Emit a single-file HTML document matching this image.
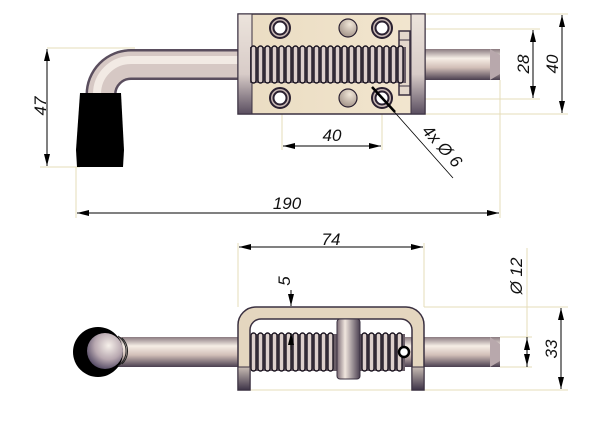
<!DOCTYPE html>
<html><head><meta charset="utf-8"><style>
html,body{margin:0;padding:0;background:#fff;}
svg{display:block;}
text{font-family:"Liberation Sans",sans-serif;font-style:italic;font-size:17px;fill:#111;}
</style></head><body>
<svg width="601" height="430" viewBox="0 0 601 430" xmlns="http://www.w3.org/2000/svg">
<defs>
<linearGradient id="rodH" x1="0" y1="0" x2="0" y2="1">
<stop offset="0" stop-color="#8a7a80"/><stop offset="0.3" stop-color="#f6eee6"/><stop offset="0.6" stop-color="#d2bfb8"/><stop offset="1" stop-color="#4a3f50"/></linearGradient>
<linearGradient id="rodV" x1="0" y1="0" x2="1" y2="0">
<stop offset="0" stop-color="#7a6a74"/><stop offset="0.35" stop-color="#f0e6de"/><stop offset="1" stop-color="#4a3f50"/></linearGradient>
<linearGradient id="plate" x1="0" y1="0" x2="1" y2="0">
<stop offset="0" stop-color="#eadcc2"/><stop offset="1" stop-color="#f2e6cf"/></linearGradient>
<linearGradient id="strip" x1="0" y1="0" x2="0" y2="1">
<stop offset="0" stop-color="#ece4dc"/><stop offset="0.6" stop-color="#d8ccc8"/><stop offset="1" stop-color="#5a4e60"/></linearGradient>
<linearGradient id="leg" x1="0" y1="0" x2="0" y2="1">
<stop offset="0" stop-color="#c8bcb4"/><stop offset="1" stop-color="#3e3448"/></linearGradient>
<radialGradient id="ball" cx="0.6" cy="0.35" r="0.7">
<stop offset="0" stop-color="#f6f0ea"/><stop offset="0.55" stop-color="#b8a8b0"/><stop offset="1" stop-color="#4e4460"/></radialGradient>
<radialGradient id="pin" cx="0.6" cy="0.3" r="0.8">
<stop offset="0" stop-color="#f0e6d8"/><stop offset="1" stop-color="#9a8a80"/></radialGradient>
<marker id="a" viewBox="0 0 12 6" refX="12" refY="3" markerWidth="12" markerHeight="6" orient="auto-start-reverse" markerUnits="userSpaceOnUse">
<path d="M0,0 L12,3 L0,6 z" fill="#000"/></marker>
</defs>

<g stroke="#e6dcb8" stroke-width="1" fill="none">
<line x1="47" y1="48" x2="135" y2="48"/>
<line x1="40" y1="167" x2="80" y2="167"/>
<line x1="76" y1="167" x2="76" y2="218"/>
<line x1="500" y1="80" x2="500" y2="218"/>
<line x1="425" y1="14" x2="568" y2="14"/>
<line x1="425" y1="114" x2="568" y2="114"/>
<line x1="348" y1="29" x2="540" y2="29"/>
<line x1="348" y1="99" x2="540" y2="99"/>
<line x1="282" y1="100" x2="282" y2="150"/>
<line x1="382" y1="100" x2="382" y2="150"/>
</g>

<path d="M240 64.5 H131 A30 30 0 0 0 101 94.5 V100" fill="none" stroke="#5a4e5e" stroke-width="31"/>
<path d="M240 64.5 H131 A30 30 0 0 0 101 94.5 V100" fill="none" stroke="#d6c8c4" stroke-width="26"/>
<path d="M240 60 H131 A34 34 0 0 0 97 94 V100" fill="none" stroke="#f2eae4" stroke-width="8"/>
<rect x="238" y="49" width="262" height="31" fill="url(#rodH)"/>
<path d="M490 49 L500 55 L500 74 L490 80 z" fill="#b8a8ac"/>
<path d="M80 93 L121 93 L124 150 L123 167 L77 167 L76 150 z" fill="#000"/>

<rect x="238" y="14" width="187" height="100" fill="url(#plate)" stroke="#3a3040" stroke-width="1.5"/>
<rect x="238" y="14" width="14" height="100" fill="url(#strip)" stroke="#3a3040" stroke-width="1"/>
<rect x="411" y="14" width="14" height="100" fill="url(#strip)" stroke="#3a3040" stroke-width="1"/>
<g stroke="#2a2030" stroke-width="2">
<circle cx="280" cy="28" r="10" fill="#c8b8b4"/><circle cx="280" cy="28" r="6.5" fill="#fff"/>
<circle cx="382" cy="28" r="10" fill="#c8b8b4"/><circle cx="382" cy="28" r="6.5" fill="#fff"/>
<circle cx="280" cy="98" r="10" fill="#c8b8b4"/><circle cx="280" cy="98" r="6.5" fill="#fff"/>
<circle cx="382" cy="98" r="10" fill="#c8b8b4"/><circle cx="382" cy="98" r="6.5" fill="#fff"/>
<circle cx="348" cy="28" r="9" fill="url(#pin)" stroke-width="1.2"/>
<circle cx="348" cy="98" r="9" fill="url(#pin)" stroke-width="1.2"/>
</g>
<rect x="399" y="31" width="11" height="64" fill="#e4d8cc" stroke="#3a3040" stroke-width="1.5"/>
<line x1="399" y1="40" x2="410" y2="40" stroke="#3a3040"/>
<line x1="399" y1="86" x2="410" y2="86" stroke="#3a3040"/>
<rect x="250" y="47" width="156" height="36" fill="#6a5e68"/>
<g fill="#ddd0cc" stroke="#1a1420" stroke-width="1.4">
<rect x="251" y="46" width="5" height="37" rx="2.5"/><rect x="258" y="46" width="5" height="37" rx="2.5"/><rect x="265" y="46" width="5" height="37" rx="2.5"/><rect x="272" y="46" width="5" height="37" rx="2.5"/><rect x="279" y="46" width="5" height="37" rx="2.5"/><rect x="286" y="46" width="5" height="37" rx="2.5"/><rect x="293" y="46" width="5" height="37" rx="2.5"/><rect x="300" y="46" width="5" height="37" rx="2.5"/><rect x="307" y="46" width="5" height="37" rx="2.5"/><rect x="314" y="46" width="5" height="37" rx="2.5"/><rect x="321" y="46" width="5" height="37" rx="2.5"/><rect x="328" y="46" width="5" height="37" rx="2.5"/><rect x="335" y="46" width="5" height="37" rx="2.5"/><rect x="342" y="46" width="5" height="37" rx="2.5"/><rect x="349" y="46" width="5" height="37" rx="2.5"/><rect x="356" y="46" width="5" height="37" rx="2.5"/><rect x="363" y="46" width="5" height="37" rx="2.5"/><rect x="370" y="46" width="5" height="37" rx="2.5"/><rect x="377" y="46" width="5" height="37" rx="2.5"/><rect x="384" y="46" width="5" height="37" rx="2.5"/><rect x="391" y="46" width="5" height="37" rx="2.5"/><rect x="398" y="46" width="5" height="37" rx="2.5"/>
</g>

<g stroke="#000" stroke-width="1" fill="none">
<line x1="47" y1="49" x2="47" y2="166" marker-start="url(#a)" marker-end="url(#a)"/>
<line x1="533" y1="30" x2="533" y2="98" marker-start="url(#a)" marker-end="url(#a)"/>
<line x1="562" y1="15" x2="562" y2="113" marker-start="url(#a)" marker-end="url(#a)"/>
<line x1="283" y1="146" x2="381" y2="146" marker-start="url(#a)" marker-end="url(#a)"/>
<line x1="77" y1="213" x2="499" y2="213" marker-start="url(#a)" marker-end="url(#a)"/>
<line x1="382" y1="98" x2="453" y2="178" stroke-width="0.8"/>
<line x1="372" y1="87" x2="395" y2="112" stroke-width="2.5"/>
</g>
<text transform="translate(46,106) rotate(-90)" text-anchor="middle">47</text>
<text transform="translate(529,64) rotate(-90)" text-anchor="middle">28</text>
<text transform="translate(558,64) rotate(-90)" text-anchor="middle">40</text>
<text x="332" y="141" text-anchor="middle">40</text>
<text x="287" y="209" text-anchor="middle">190</text>
<text transform="translate(438,150) rotate(48)" text-anchor="middle">4x Ø 6</text>

<g stroke="#e6dcb8" stroke-width="1" fill="none">
<line x1="238" y1="243" x2="238" y2="307"/>
<line x1="424" y1="243" x2="424" y2="307"/>
<line x1="424" y1="307" x2="568" y2="307"/>
<line x1="238" y1="390" x2="568" y2="390"/>
<line x1="500" y1="337" x2="532" y2="337"/>
<line x1="500" y1="367" x2="532" y2="367"/>
<line x1="527" y1="248" x2="527" y2="337"/>
</g>
<rect x="100" y="337" width="400" height="30" fill="url(#rodH)"/>
<path d="M490 337 L500 344 L500 361 L490 367 z" fill="#b8a8ac"/>
<circle cx="98" cy="352" r="25" fill="#000"/>
<circle cx="105" cy="351" r="18" fill="url(#ball)"/>
<path d="M118 336 A18 18 0 0 1 118 366 M122 338 A18 18 0 0 1 122 364" fill="none" stroke="#222" stroke-width="1"/>
<path d="M238 390 V325 A18 18 0 0 1 256 307 H406 A18 18 0 0 1 424 325 V390 H412 V330 A11 11 0 0 0 401 319 H261 A11 11 0 0 0 250 330 V390 z" fill="#e4d6bf" stroke="#3a3040" stroke-width="1.5"/>
<rect x="238" y="367" width="12" height="23" fill="url(#leg)" stroke="#3a3040"/>
<rect x="412" y="367" width="12" height="23" fill="url(#leg)" stroke="#3a3040"/>
<rect x="250" y="334" width="155" height="37" fill="#6a5e68"/>
<g fill="#ddd0cc" stroke="#1a1420" stroke-width="1.4">
<rect x="251" y="333" width="5" height="38" rx="2.5"/><rect x="258" y="333" width="5" height="38" rx="2.5"/><rect x="265" y="333" width="5" height="38" rx="2.5"/><rect x="272" y="333" width="5" height="38" rx="2.5"/><rect x="279" y="333" width="5" height="38" rx="2.5"/><rect x="286" y="333" width="5" height="38" rx="2.5"/><rect x="293" y="333" width="5" height="38" rx="2.5"/><rect x="300" y="333" width="5" height="38" rx="2.5"/><rect x="307" y="333" width="5" height="38" rx="2.5"/><rect x="314" y="333" width="5" height="38" rx="2.5"/><rect x="321" y="333" width="5" height="38" rx="2.5"/><rect x="328" y="333" width="5" height="38" rx="2.5"/><rect x="362" y="333" width="5" height="38" rx="2.5"/><rect x="369" y="333" width="5" height="38" rx="2.5"/><rect x="376" y="333" width="5" height="38" rx="2.5"/><rect x="383" y="333" width="5" height="38" rx="2.5"/><rect x="390" y="333" width="5" height="38" rx="2.5"/><rect x="397" y="333" width="5" height="38" rx="2.5"/>
</g>
<rect x="337" y="319" width="23" height="60" rx="3" fill="url(#rodV)" stroke="#3a3040"/>
<circle cx="404" cy="352" r="5" fill="#fff" stroke="#000" stroke-width="2.5"/>
<g stroke="#000" stroke-width="1" fill="none">
<line x1="239" y1="247" x2="423" y2="247" marker-start="url(#a)" marker-end="url(#a)"/>
<line x1="291" y1="290" x2="291" y2="306" marker-end="url(#a)"/>
<line x1="291" y1="350" x2="291" y2="333" marker-end="url(#a)"/>
<line x1="527" y1="350" x2="527" y2="338" marker-end="url(#a)"/>
<line x1="527" y1="354" x2="527" y2="366" marker-end="url(#a)"/>
<line x1="527" y1="337" x2="527" y2="367"/>
<line x1="561" y1="308" x2="561" y2="389" marker-start="url(#a)" marker-end="url(#a)"/>
</g>
<text x="331" y="245" text-anchor="middle">74</text>
<text transform="translate(290,281) rotate(-90)" text-anchor="middle">5</text>
<text transform="translate(522,276) rotate(-90)" text-anchor="middle">Ø 12</text>
<text transform="translate(557,349) rotate(-90)" text-anchor="middle">33</text>
</svg>
</body></html>
